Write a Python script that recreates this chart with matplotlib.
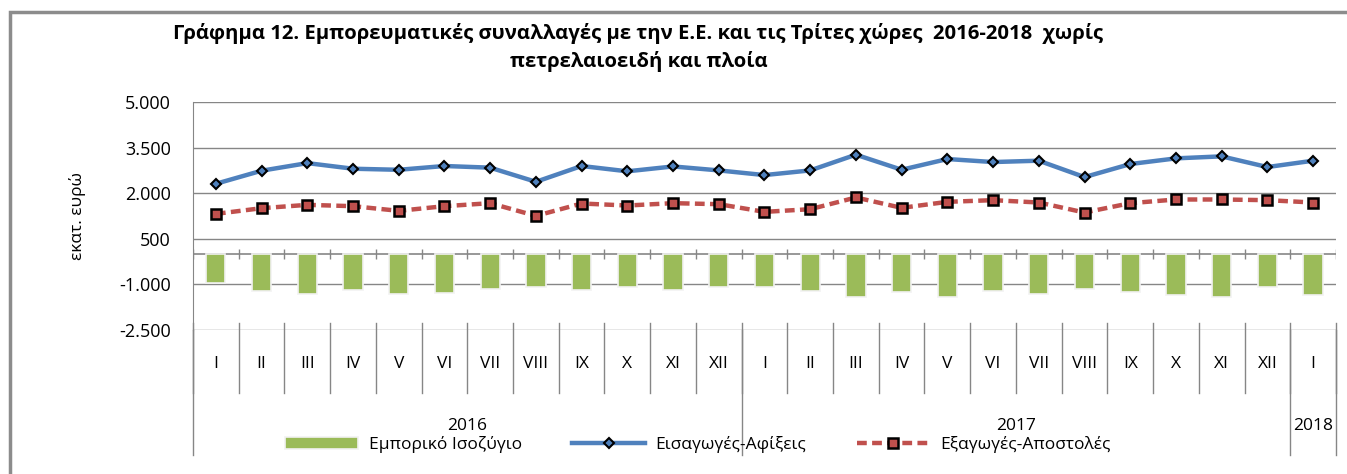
import numpy as np
import matplotlib.pyplot as plt
from matplotlib.ticker import FuncFormatter
from matplotlib.transforms import blended_transform_factory
from matplotlib.patches import Rectangle

plt.rcParams['font.family'] = ['Open Sans', 'DejaVu Sans']

months = ['I', 'II', 'III', 'IV', 'V', 'VI', 'VII', 'VIII', 'IX', 'X', 'XI', 'XII'] * 2 + ['I']
years = ['2016', '2017', '2018']
year_counts = [12, 12, 1]

# εκατ. ευρώ
imports = [2310, 2740, 2990, 2805, 2770, 2895, 2840, 2375, 2895, 2720, 2880, 2750,
           2596, 2750, 3267, 2772, 3124, 3025, 3069, 2530, 2959, 3146, 3212, 2860, 3069]
exports = [1320, 1507, 1617, 1573, 1420, 1573, 1672, 1254, 1661, 1595, 1672, 1639,
           1386, 1474, 1859, 1518, 1716, 1771, 1694, 1364, 1672, 1793, 1793, 1771, 1694]
balance = [-946, -1210, -1320, -1199, -1320, -1276, -1155, -1100, -1199, -1100, -1188, -1100,
           -1100, -1210, -1408, -1265, -1408, -1232, -1331, -1166, -1254, -1353, -1408, -1078, -1342]

title = ('Γράφημα 12. Εμπορευματικές συναλλαγές με την Ε.Ε. και τις Τρίτες χώρες  2016-2018  χωρίς\n'
         'πετρελαιοειδή και πλοία')

fig = plt.figure(figsize=(13.47, 4.74), dpi=100)
ax = fig.add_axes([0.1433, 0.3038, 0.8485, 0.4810])

x = np.arange(len(months))
grid_c = '#868686'

bars = ax.bar(x, balance, width=0.42, color='#9BBB59', edgecolor='#f2f2f2', linewidth=1.2,
              label='Εμπορικό Ισοζύγιο', zorder=3)
l1, = ax.plot(x, imports, color='#4F81BD', lw=3.2, marker='D', ms=5, mfc='#4F81BD', mec='black',
              mew=1.5, label='Εισαγωγές-Αφίξεις', zorder=4)
l2, = ax.plot(x, exports, color='#C0504D', lw=3.2, ls=(0, (2.2, 1.2)), marker='s', ms=6.5,
              mfc='#C0504D', mec='black', mew=1.8, label='Εξαγωγές-Αποστολές', zorder=4)

ax.set_xlim(-0.5, len(months) - 0.5)
ax.set_ylim(-2500, 5000)
ax.set_yticks([-2500, -1000, 500, 2000, 3500, 5000])
ax.yaxis.set_major_formatter(FuncFormatter(lambda v, p: f'{int(v):,}'.replace(',', '.')))
ax.tick_params(axis='y', length=0, labelsize=13, pad=16)
ax.set_xticks([])
ax.grid(axis='y', color=grid_c, lw=1)
ax.set_axisbelow(True)
for s in ['top', 'right', 'bottom']:
    ax.spines[s].set_visible(False)
ax.spines['left'].set_color(grid_c)
ax.axhline(0, color=grid_c, lw=1.2, zorder=2)

# cross ticks on the zero axis
bounds = np.arange(len(months) + 1) - 0.5
ax.vlines(bounds, -180, 180, color=grid_c, lw=1, zorder=2)

ax.set_ylabel('εκατ. ευρώ', fontsize=12.5, labelpad=24)

# multi-level category axis
tr = blended_transform_factory(ax.transData, ax.transAxes)
for i, m in enumerate(months):
    ax.text(i, -0.15, m, transform=tr, ha='center', va='center', fontsize=12.5)
for b in bounds:
    ax.plot([b, b], [0.03, -0.276], transform=tr, color=grid_c, lw=1, clip_on=False)
start = 0
ybounds = [-0.5]
for yr, n in zip(years, year_counts):
    ax.text(start + n / 2 - 0.5, -0.42, yr, transform=tr, ha='center', va='center', fontsize=12.5)
    start += n
    ybounds.append(start - 0.5)
for b in ybounds:
    ax.plot([b, b], [0, -0.55], transform=tr, color=grid_c, lw=1, clip_on=False)

fig.text(0.474, 0.90, title, ha='center', va='center', fontsize=14.6, fontweight='bold',
         linespacing=1.45)

fig.legend([bars, l1, l2], [bars.get_label(), l1.get_label(), l2.get_label()],
           loc='center', bbox_to_anchor=(0.518, 0.062), ncol=3, frameon=False, fontsize=12.5,
           handlelength=4.2, columnspacing=2.9, handletextpad=0.6)

fig.patches.append(Rectangle((0.0075, -0.1), 1.2, 1.075, transform=fig.transFigure,
                             fill=False, edgecolor='#8c8c8c', lw=2.5))

fig.savefig('out.png', dpi=100)
